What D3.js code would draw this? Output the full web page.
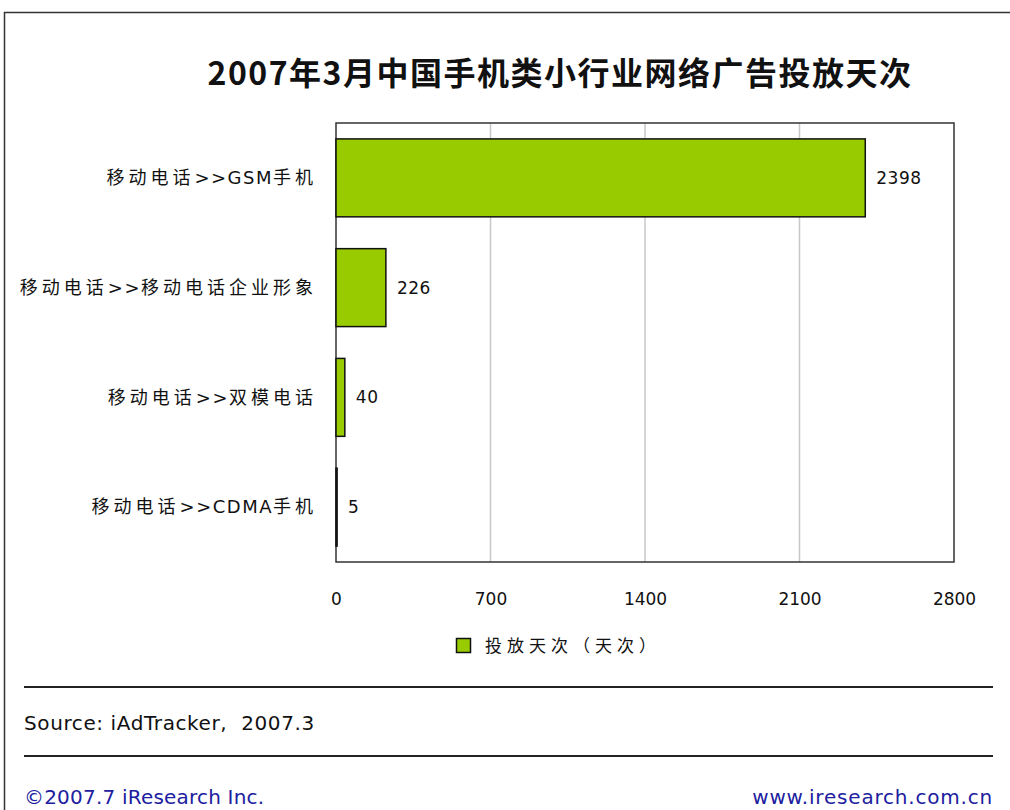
<!DOCTYPE html>
<html>
<head>
<meta charset="utf-8">
<script src="https://cdn.jsdelivr.net/npm/d3@7"></script>
<style>
  body { margin: 0; background: #fff; }
</style>
</head>
<body>
<script>
// données du graphique
const categories = ['移动电话>>GSM手机', '移动电话>>移动电话企业形象', '移动电话>>双模电话', '移动电话>>CDMA手机'];
const valeurs = [2398, 226, 40, 5];
const graduations = [0, 700, 1400, 2100, 2800];
const titre = '2007年3月中国手机类小行业网络广告投放天次';
const legende = '投放天次（天次）';

const policeCJK = '"Noto Sans CJK SC", sans-serif';
const policeLatine = '"DejaVu Sans", sans-serif';

const largeur = 1010, hauteur = 810;
const canevas = d3.select('body')
  .append('svg')
  .attr('width', largeur)
  .attr('height', hauteur);

// cadre extérieur
canevas.append('rect')
  .attr('x', 4.5).attr('y', 12.5)
  .attr('width', 1020).attr('height', 820)
  .attr('fill', 'none').attr('stroke', '#333').attr('stroke-width', 1.5);

// titre
canevas.append('text')
  .attr('x', 560).attr('y', 85)
  .attr('text-anchor', 'middle')
  .style('font-family', policeCJK)
  .style('font-size', '32px').style('font-weight', 'bold')
  .style('letter-spacing', '1.5px')
  .attr('fill', '#111')
  .text(titre);

// zone du graphique
const zone = { gauche: 336, droite: 954, haut: 123, bas: 562 };

const x = d3.scaleLinear()
  .domain([0, 2800])
  .range([zone.gauche, zone.droite]);

const y = d3.scaleBand()
  .domain(categories)
  .range([zone.haut, zone.bas])
  .paddingInner(0.29)
  .paddingOuter(0.145);

// lignes de grille
canevas.append('g')
  .selectAll('line')
  .data(graduations.slice(1, -1))
  .join('line')
  .attr('x1', d => x(d)).attr('x2', d => x(d))
  .attr('y1', zone.haut).attr('y2', zone.bas)
  .attr('stroke', '#c8c8c8').attr('stroke-width', 1.5);

// cadre du graphique
canevas.append('rect')
  .attr('x', zone.gauche).attr('y', zone.haut)
  .attr('width', zone.droite - zone.gauche).attr('height', zone.bas - zone.haut)
  .attr('fill', 'none').attr('stroke', '#333').attr('stroke-width', 1.5);

// barres
canevas.append('g')
  .selectAll('rect')
  .data(valeurs)
  .join('rect')
  .attr('x', x(0))
  .attr('y', (d, i) => y(categories[i]))
  .attr('width', d => x(d) - x(0))
  .attr('height', y.bandwidth())
  .attr('fill', '#99cc00')
  .attr('stroke', '#111').attr('stroke-width', 1.5);

// étiquettes de valeur
canevas.append('g')
  .selectAll('text')
  .data(valeurs)
  .join('text')
  .attr('x', d => x(d) + 11)
  .attr('y', (d, i) => y(categories[i]) + y.bandwidth() / 2)
  .attr('dy', '0.35em')
  .style('font-family', policeLatine)
  .style('font-size', '17px')
  .style('letter-spacing', '0.5px')
  .attr('fill', '#111')
  .text(d => d);

// étiquettes des catégories : morceaux latins et chinois séparés
const morceaux = s => s.match(/[\x00-\x7f]+|[^\x00-\x7f]+/g);
const etiquettes = canevas.append('g')
  .selectAll('text')
  .data(categories)
  .join('text')
  .attr('x', 317)
  .attr('y', d => y(d) + y.bandwidth() / 2)
  .attr('dy', '0.35em')
  .attr('text-anchor', 'end')
  .style('font-size', '18px')
  .attr('fill', '#111');
etiquettes.selectAll('tspan')
  .data(d => morceaux(d))
  .join('tspan')
  .style('font-family', d => /^[\x00-\x7f]+$/.test(d) ? policeLatine : policeCJK)
  .style('letter-spacing', d => /^[\x00-\x7f]+$/.test(d) ? '1.5px' : '4px')
  .text(d => d);

// axe horizontal
const axeX = d3.axisBottom(x)
  .tickValues(graduations)
  .tickFormat(d3.format('d'))
  .tickSize(0)
  .tickPadding(31);
const gAxe = canevas.append('g')
  .attr('transform', `translate(0,${zone.bas})`)
  .call(axeX);
gAxe.select('.domain').remove();
gAxe.selectAll('text')
  .style('font-family', policeLatine)
  .style('font-size', '17px')
  .attr('fill', '#111');

// légende
canevas.append('rect')
  .attr('x', 456.5).attr('y', 638.5)
  .attr('width', 14).attr('height', 14)
  .attr('fill', '#99cc00').attr('stroke', '#111').attr('stroke-width', 1.5);
canevas.append('text')
  .attr('x', 485).attr('y', 646)
  .attr('dy', '0.35em')
  .style('font-family', policeCJK)
  .style('font-size', '17px')
  .style('letter-spacing', '5px')
  .attr('fill', '#111')
  .text(legende);

// pied de page
[687, 756].forEach(yy => {
  canevas.append('line')
    .attr('x1', 24).attr('x2', 993)
    .attr('y1', yy).attr('y2', yy)
    .attr('stroke', '#222').attr('stroke-width', 2);
});
canevas.append('text')
  .attr('x', 24).attr('y', 730)
  .style('font-family', policeLatine)
  .style('font-size', '20px')
  .style('letter-spacing', '0.6px')
  .style('white-space', 'pre')
  .attr('fill', '#111')
  .text('Source: iAdTracker,  2007.3');
canevas.append('text')
  .attr('x', 24).attr('y', 804)
  .style('font-family', policeLatine)
  .style('font-size', '20px')
  .style('letter-spacing', '0.2px')
  .attr('fill', '#2020a0')
  .text('©2007.7 iResearch Inc.');
canevas.append('text')
  .attr('x', 993).attr('y', 804)
  .attr('text-anchor', 'end')
  .style('font-family', policeLatine)
  .style('font-size', '20px')
  .style('letter-spacing', '0.8px')
  .attr('fill', '#2020a0')
  .text('www.iresearch.com.cn');
</script>
</body>
</html>
